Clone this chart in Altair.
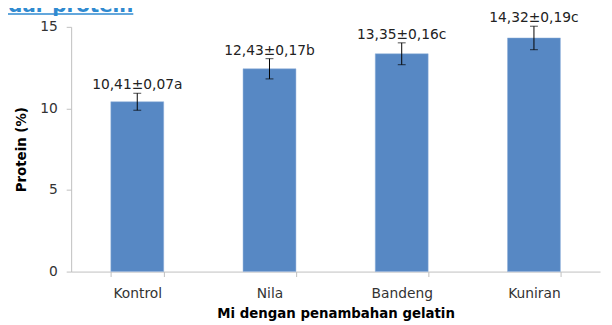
import altair as alt
import pandas as pd

categories = ["Kontrol", "Nila", "Bandeng", "Kuniran"]
protein = [10.41, 12.43, 13.35, 14.32]
err = [0.52, 0.62, 0.67, 0.72]
labels = ["10,41±0,07a", "12,43±0,17b", "13,35±0,16c", "14,32±0,19c"]

df = pd.DataFrame({
    "cat": categories,
    "val": protein,
    "lo": [p - e for p, e in zip(protein, err)],
    "hi": [p + e for p, e in zip(protein, err)],
    "lab": labels,
})

FONT = "DejaVu Sans"
x = alt.X("cat:N", sort=categories,
          scale=alt.Scale(paddingInner=0.6, paddingOuter=0.3),
          axis=alt.Axis(title="Mi dengan penambahan gelatin", labelAngle=0,
                        tickBand="extent", tickSize=5, labelPadding=10,
                        titlePadding=7))
y = alt.Y("val:Q", scale=alt.Scale(domain=[0, 15], nice=False),
          axis=alt.Axis(title="Protein (%)", values=[0, 5, 10, 15], grid=False,
                        tickSize=5, labelPadding=9, titlePadding=11))

base = alt.Chart(df)
bars = base.mark_bar(color="#5788C4", stroke="#8FB0DA", strokeWidth=0.5).encode(x=x, y=y)
rules = base.mark_rule(color="#000000", strokeWidth=1).encode(
    x=alt.X("cat:N", sort=categories), y="lo:Q", y2="hi:Q")
caps_lo = base.mark_tick(color="#000000", thickness=1, size=8, orient="horizontal").encode(
    x=alt.X("cat:N", sort=categories), y="lo:Q")
caps_hi = base.mark_tick(color="#000000", thickness=1, size=8, orient="horizontal").encode(
    x=alt.X("cat:N", sort=categories), y="hi:Q")
text = base.mark_text(baseline="alphabetic", dy=-4, font=FONT, fontSize=14,
                      color="#222222").encode(
    x=alt.X("cat:N", sort=categories), y="hi:Q", text="lab:N")

frag_df = pd.DataFrame({"t": ["Kadar protein"]})
frag = alt.Chart(frag_df).mark_text(align="right", baseline="alphabetic", font=FONT,
                                    fontSize=20, fontWeight="bold", color="#2F8AD0").encode(
    x=alt.value(63), y=alt.value(-15.5), text="t:N")
frag_line = alt.Chart(frag_df).mark_rule(color="#2F8AD0", strokeWidth=1.5).encode(
    x=alt.value(-80), x2=alt.value(63), y=alt.value(-13))

chart = alt.layer(bars, rules, caps_lo, caps_hi, text, frag, frag_line).properties(
    width=536, height=248,
    autosize=alt.AutoSizeParams(type="none"),
    padding={"left": 64, "top": 17, "right": 4, "bottom": 50},
).configure_view(stroke=None).configure_axis(
    labelFont=FONT, titleFont=FONT, labelFontSize=14, titleFontSize=13.5,
    labelColor="#333333", titleColor="#000000", domainColor="#BFBFBF",
    tickColor="#BFBFBF", titleFontWeight="bold",
)

chart.save("out.html", embed_options={"renderer": "svg", "actions": False})
